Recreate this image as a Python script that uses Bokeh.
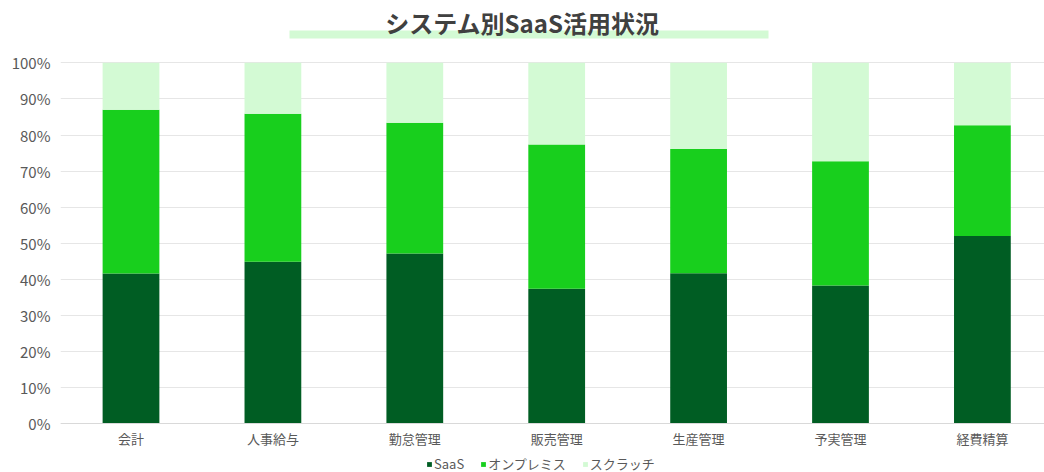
from bokeh.plotting import figure
from bokeh.models import (ColumnDataSource, Range1d, FixedTicker, NumeralTickFormatter,
                          Legend, LegendItem)
from bokeh.core.properties import value
from bokeh.embed import file_html
from bokeh.resources import INLINE

categories = ["会計", "人事給与", "勤怠管理", "販売管理", "生産管理", "予実管理", "経費精算"]
saas = [41.6, 44.9, 47.2, 37.4, 41.7, 38.3, 52.0]
onprem = [45.4, 41.0, 36.2, 40.0, 34.4, 34.4, 30.7]
scratch = [13.0, 14.1, 16.6, 22.6, 23.9, 27.3, 17.3]
series_names = ["SaaS", "オンプレミス", "スクラッチ"]
colors = ["#005D23", "#18CF1D", "#D3FAD4"]
title_text = "システム別SaaS活用状況"

FONT = "Noto Sans CJK JP"

# layout (canvas pixels)
W, H = 1044, 472
FRAME_LEFT = 60
ZERO_PIX = 423.3        # canvas y of the 0% line
PX_PER_UNIT_Y = 361.0   # pixels for 0..100%
X0_PIX = 130.5          # canvas x of the first category centre
STEP = 141.9            # pixels between categories

def py(pix_y):
    return (ZERO_PIX - pix_y) / PX_PER_UNIT_Y

def px(pix_x):
    return (pix_x - X0_PIX) / STEP

xs = list(range(len(categories)))
src = ColumnDataSource(dict(
    x=xs,
    saas=[v / 100 for v in saas],
    onprem=[v / 100 for v in onprem],
    scratch=[v / 100 for v in scratch],
))

p = figure(width=W, height=H, output_backend="svg", toolbar_location=None,
           x_range=Range1d(px(FRAME_LEFT), px(W)), y_range=Range1d(py(H), py(0)),
           min_border_left=FRAME_LEFT, min_border_right=0, min_border_top=0,
           min_border_bottom=0)
p.outline_line_color = None
p.background_fill_color = "white"
p.border_fill_color = "white"

rs = p.vbar_stack(["saas", "onprem", "scratch"], x="x", width=0.4, source=src,
                  color=colors, line_color=None)

# title with highlight bar
p.quad(left=[px(289)], right=[px(768)], bottom=[py(38)], top=[py(30)],
       color="#D3FAD4", line_color=None)
p.text(x=[px(522)], y=[py(22)], text=[title_text], text_font=value(FONT),
       text_font_size="24px", text_font_style="bold", text_color="#404040",
       text_align="center", text_baseline="middle")

p.xaxis.fixed_location = 0
p.xaxis.ticker = FixedTicker(ticks=xs)
p.xaxis.major_label_overrides = {i: c for i, c in enumerate(categories)}
p.xaxis.major_tick_line_color = None
p.xaxis.major_tick_out = 0
p.xaxis.minor_tick_line_color = None
p.xaxis.axis_line_color = "#D9D9D9"
p.xaxis.major_label_text_font = FONT
p.xaxis.major_label_text_font_size = "13px"
p.xaxis.major_label_text_color = "#595959"
p.xaxis.major_label_standoff = 5
p.xgrid.grid_line_color = None

p.yaxis.ticker = FixedTicker(ticks=[i / 10 for i in range(11)])
p.yaxis.formatter = NumeralTickFormatter(format="0%")
p.yaxis.axis_line_color = None
p.yaxis.major_tick_line_color = None
p.yaxis.major_tick_out = 0
p.yaxis.minor_tick_line_color = None
p.yaxis.major_label_text_font = FONT
p.yaxis.major_label_text_font_size = "15px"
p.yaxis.major_label_text_color = "#595959"
p.yaxis.major_label_standoff = 10
p.ygrid.grid_line_color = "#E6E6E6"
p.ygrid.grid_line_width = 1

legend = Legend(items=[LegendItem(label=n, renderers=[r]) for n, r in zip(series_names, rs)],
                orientation="horizontal", location=(366, -1),
                glyph_width=6, glyph_height=6, label_text_font=FONT,
                label_text_font_size="13px", label_text_color="#595959",
                padding=0, margin=0, spacing=16, label_standoff=2,
                border_line_color=None, background_fill_alpha=0)
p.add_layout(legend)

open("out.html", "w").write(file_html(p, INLINE))
